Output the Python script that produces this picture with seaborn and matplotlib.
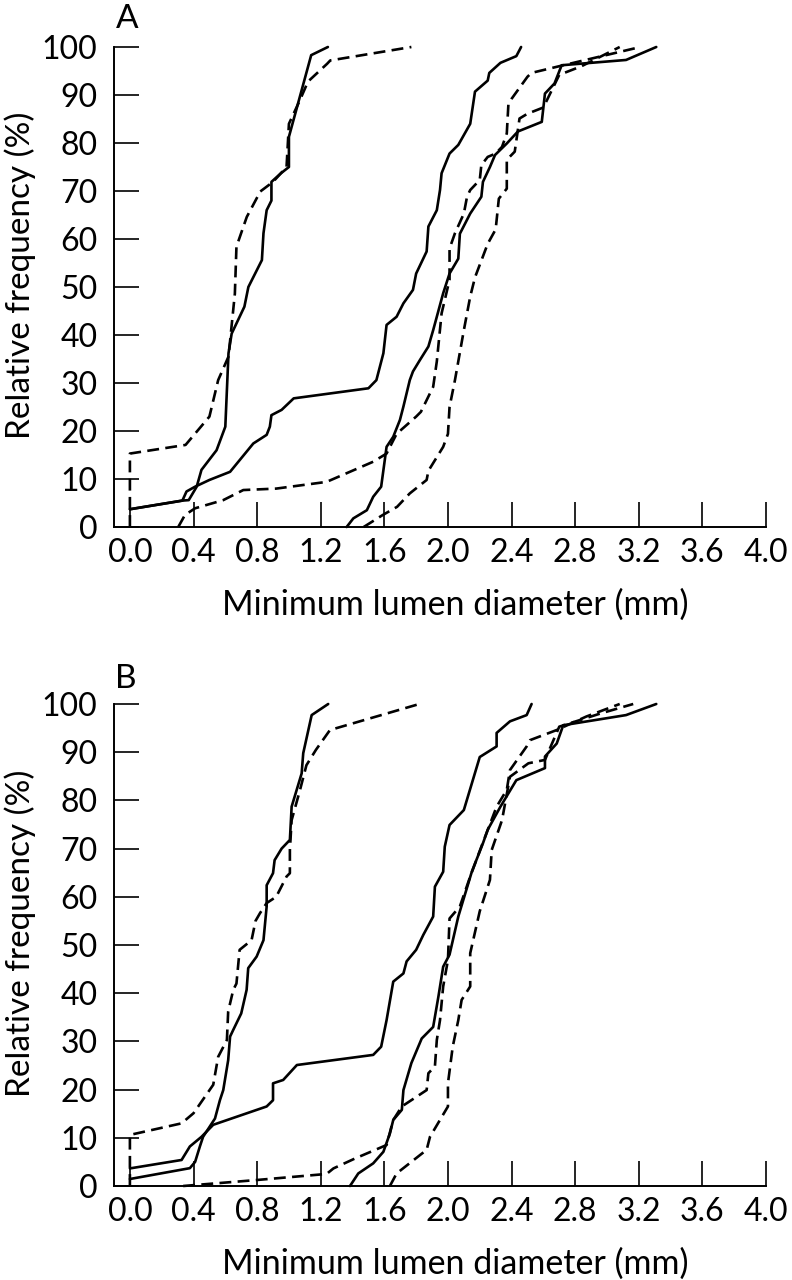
import numpy as np
import pandas as pd
import matplotlib
matplotlib.use("Agg")
import matplotlib.pyplot as plt
import seaborn as sns

# ---------------- data ----------------
# Panel A
a_s1_x = [0, 0.33, 0.37, 0.42, 0.45, 0.545, 0.6, 0.62, 0.64, 0.72, 0.745, 0.83, 0.84, 0.86, 0.89, 0.89, 0.95, 1.0, 1.0, 1.08, 1.14, 1.245]
a_s1_y = [3.7, 5.5, 5.6, 8.4, 11.9, 16, 20.9, 36.2, 40.3, 45.9, 50, 55.6, 61.2, 66, 68, 71.9, 73.7, 75, 81.3, 91, 98.3, 100]
a_d1_x = [0, 0, 0.35, 0.5, 0.555, 0.62, 0.66, 0.67, 0.735, 0.82, 0.9, 0.985, 1.0, 1.07, 1.12, 1.24, 1.26, 1.77]
a_d1_y = [0, 15.3, 17.1, 23, 30.6, 35.5, 48.6, 58.4, 64.6, 69.9, 71.9, 75, 84, 89, 92.8, 96.5, 97.2, 100]
a_s2_x = [0, 0.33, 0.356, 0.41, 0.5, 0.63, 0.776, 0.86, 0.88, 0.89, 0.954, 1.03, 1.5, 1.55, 1.594, 1.614, 1.677, 1.72, 1.78, 1.8, 1.866, 1.877, 1.93, 1.95, 1.96, 2.01, 2.065, 2.14, 2.17, 2.25, 2.26, 2.33, 2.43, 2.46]
a_s2_y = [3.7, 5.5, 7.4, 8.4, 9.8, 11.5, 17.4, 19.2, 20.9, 23.3, 24.4, 26.8, 28.9, 30.6, 36.2, 42.1, 43.8, 46.6, 49.4, 52.8, 57.4, 62.6, 66, 70.2, 73.7, 77.8, 79.6, 84, 90.7, 93, 94.6, 96.7, 98.1, 100]
a_s3_x = [1.363, 1.405, 1.49, 1.53, 1.58, 1.614, 1.656, 1.698, 1.72, 1.76, 1.78, 1.824, 1.877, 1.907, 1.97, 2.01, 2.065, 2.075, 2.14, 2.21, 2.22, 2.264, 2.296, 2.37, 2.44, 2.59, 2.61, 2.67, 2.715, 3.12, 3.31]
a_s3_y = [0, 1.8, 3.5, 6.3, 8.4, 16.7, 18.8, 22.3, 25.1, 30.6, 32.4, 34.8, 37.6, 41, 48.7, 52.8, 55.9, 61.1, 65.3, 68.8, 71.9, 75, 77.5, 79.9, 82.4, 84.4, 90.3, 92.4, 96.2, 97.3, 100]
a_d2_x = [0.304, 0.346, 0.41, 0.587, 0.713, 0.92, 1.237, 1.53, 1.614, 1.677, 1.8, 1.83, 1.907, 1.93, 1.96, 1.99, 2.01, 2.01, 2.044, 2.1, 2.12, 2.14, 2.2, 2.21, 2.25, 2.3, 2.34, 2.37, 2.38, 2.4, 2.5, 2.525, 2.7, 3.21]
a_d2_y = [0, 2.5, 3.9, 5.6, 7.7, 8, 9.4, 13.6, 15.3, 19.4, 23, 24, 29.2, 34.5, 44.5, 48.7, 51.5, 58, 61.2, 65.3, 68.8, 70.2, 72.3, 75.4, 77.1, 77.8, 79.2, 82, 88, 89.2, 93.8, 94.6, 96, 100]
a_d3_x = [1.47, 1.59, 1.68, 1.76, 1.866, 1.877, 1.97, 2.0, 2.01, 2.044, 2.1, 2.14, 2.17, 2.25, 2.3, 2.32, 2.37, 2.37, 2.42, 2.45, 2.5, 2.6, 2.7, 2.84, 3.08]
a_d3_y = [0, 2.5, 4.2, 7, 9.8, 11.7, 16.7, 19.4, 25, 30.6, 41, 48, 52, 59, 62, 68.4, 70.5, 76.5, 78.2, 85.1, 86.1, 87.4, 94.2, 96, 100]

# Panel B
b_s1_x = [0, 0.377, 0.41, 0.44, 0.46, 0.535, 0.566, 0.587, 0.618, 0.63, 0.65, 0.70, 0.734, 0.744, 0.797, 0.84, 0.86, 0.86, 0.9, 0.91, 0.954, 1.006, 1.017, 1.08, 1.09, 1.143, 1.247]
b_s1_y = [1.45, 3.7, 5, 8.2, 10.2, 14, 17.8, 19.9, 26.1, 31, 32.4, 35.8, 40.7, 45.2, 47.6, 51, 58, 62.4, 64.9, 67.6, 70, 71.8, 78.7, 85.6, 89.8, 97.7, 100]
b_d1_x = [0, 0, 0.325, 0.4, 0.524, 0.555, 0.61, 0.618, 0.65, 0.67, 0.69, 0.765, 0.79, 0.818, 0.86, 0.92, 0.985, 1.006, 1.006, 1.017, 1.07, 1.11, 1.17, 1.258, 1.82]
b_d1_y = [0, 10.6, 13, 15.1, 21, 26.8, 30.3, 36.2, 40.7, 42, 49, 51, 55, 56.6, 58.7, 60, 64.2, 64.9, 69.7, 75.9, 82.2, 87.3, 90.5, 94.6, 100]
b_s2_x = [0, 0.325, 0.377, 0.45, 0.524, 0.86, 0.9, 0.9, 0.964, 1.05, 1.53, 1.58, 1.614, 1.656, 1.72, 1.74, 1.8, 1.845, 1.907, 1.918, 1.97, 1.98, 2.01, 2.1, 2.2, 2.306, 2.306, 2.39, 2.495, 2.526]
b_s2_y = [3.65, 5.4, 8.2, 10.2, 12.7, 16.5, 17.8, 21.3, 22, 25.1, 27.2, 28.9, 34.4, 42.4, 44.1, 46.6, 49, 52.1, 55.9, 62.1, 65.2, 70.4, 74.9, 78, 89, 91.2, 94, 96.4, 97.7, 100]
b_s3_x = [1.384, 1.436, 1.53, 1.594, 1.635, 1.656, 1.71, 1.72, 1.77, 1.835, 1.907, 1.94, 1.97, 2.01, 2.065, 2.15, 2.22, 2.25, 2.33, 2.43, 2.61, 2.61, 2.684, 2.725, 3.12, 3.31]
b_s3_y = [0, 2.6, 4.7, 7.1, 10.9, 13.7, 15.8, 19.9, 25.5, 30.6, 33, 39.3, 45.5, 48, 55.9, 65.2, 71.1, 73.9, 78.7, 84.2, 86.7, 89.1, 91.8, 95.6, 97.7, 100]
b_d2_x = [0.335, 0.797, 1.237, 1.28, 1.415, 1.614, 1.656, 1.71, 1.866, 1.877, 1.918, 1.93, 1.95, 1.97, 2.0, 2.01, 2.075, 2.14, 2.21, 2.306, 2.37, 2.39, 2.495, 2.516, 2.684, 2.87, 3.08]
b_d2_y = [0, 1.24, 2.5, 3.65, 5.7, 8.5, 13.7, 16.5, 19.9, 23.4, 24.8, 30.3, 34.4, 41.4, 46.9, 55.5, 58, 64.2, 70.4, 78.7, 82.2, 86.3, 91.2, 92.5, 94.6, 97.4, 100]
b_d3_x = [1.635, 1.677, 1.866, 1.887, 2.0, 2.0, 2.03, 2.065, 2.086, 2.14, 2.14, 2.2, 2.264, 2.275, 2.34, 2.39, 2.506, 2.61, 2.7, 2.956, 3.165]
b_d3_y = [0, 2.6, 7.5, 10.2, 16.5, 21.3, 28.9, 34.4, 38.6, 41.4, 48.3, 57, 63.5, 69.7, 75.9, 84.9, 87.7, 88.4, 95.3, 98, 100]

x_ticks = [0.0, 0.4, 0.8, 1.2, 1.6, 2.0, 2.4, 2.8, 3.2, 3.6, 4.0]
y_ticks = [0, 10, 20, 30, 40, 50, 60, 70, 80, 90, 100]
panel_labels = ["A", "B"]
xlabel = "Minimum lumen diameter (mm)"
ylabel = "Relative frequency (%)"

curves = {
    "A": [("s1", "solid", a_s1_x, a_s1_y), ("d1", "dashed", a_d1_x, a_d1_y),
          ("s2", "solid", a_s2_x, a_s2_y), ("d2", "dashed", a_d2_x, a_d2_y),
          ("s3", "solid", a_s3_x, a_s3_y), ("d3", "dashed", a_d3_x, a_d3_y)],
    "B": [("s1", "solid", b_s1_x, b_s1_y), ("d1", "dashed", b_d1_x, b_d1_y),
          ("s2", "solid", b_s2_x, b_s2_y), ("d2", "dashed", b_d2_x, b_d2_y),
          ("s3", "solid", b_s3_x, b_s3_y), ("d3", "dashed", b_d3_x, b_d3_y)],
}

rows = []
for panel, lst in curves.items():
    for name, ls, xs, ys in lst:
        for i, (xv, yv) in enumerate(zip(xs, ys)):
            rows.append(dict(panel=panel, curve=name, ls=ls, order=i, x=xv, y=yv))
df = pd.DataFrame(rows)

# ---------------- figure ----------------
sns.set_theme(style="ticks")
plt.rcParams["font.family"] = ["Lato", "DejaVu Sans"]

fig = plt.figure(figsize=(7.92, 12.8), dpi=100)
W, H = 792, 1280
boxes = {"A": (114, 47, 766, 527), "B": (114, 704, 766, 1186)}
label_pos = {"A": (116, 28), "B": (115, 688)}

for panel in panel_labels:
    l, t, r, b = boxes[panel]
    ax = fig.add_axes([l / W, 1 - b / H, (r - l) / W, (b - t) / H])
    sub = df[df.panel == panel]
    sns.lineplot(data=sub, x="x", y="y", units="curve", estimator=None, sort=False,
                 style="ls", dashes={"solid": "", "dashed": (4.5, 2.4)},
                 color="black", linewidth=1.9, legend=False, ax=ax, clip_on=False)
    ax.set_xlim(-0.1, 4.0)
    ax.set_ylim(0, 100)
    ax.set_xticks(x_ticks)
    ax.set_xticklabels([f"{v:.1f}" for v in x_ticks])
    ax.set_yticks(y_ticks)
    ax.set_yticklabels([str(v) for v in y_ticks])
    ax.tick_params(direction="in", length=18, width=1.2, colors="black",
                   labelsize=23, pad=8)
    ax.tick_params(axis="y", pad=12)
    for s in ["top", "right"]:
        ax.spines[s].set_visible(False)
    for s in ["left", "bottom"]:
        ax.spines[s].set_linewidth(1.4)
        ax.spines[s].set_color("black")
    ax.set_xlabel(xlabel, fontsize=24.5, labelpad=15, color="black")
    ax.set_ylabel(ylabel, fontsize=24, labelpad=4, color="black")
    ax.xaxis.label.set_x(0.523)
    ax.yaxis.label.set_y(0.525)
    ax.set_facecolor("white")
    lx, ly = label_pos[panel]
    fig.text(lx / W, 1 - ly / H, panel, fontsize=24, color="black", va="baseline", ha="left")

fig.savefig("out.png", dpi=100, facecolor="white")
